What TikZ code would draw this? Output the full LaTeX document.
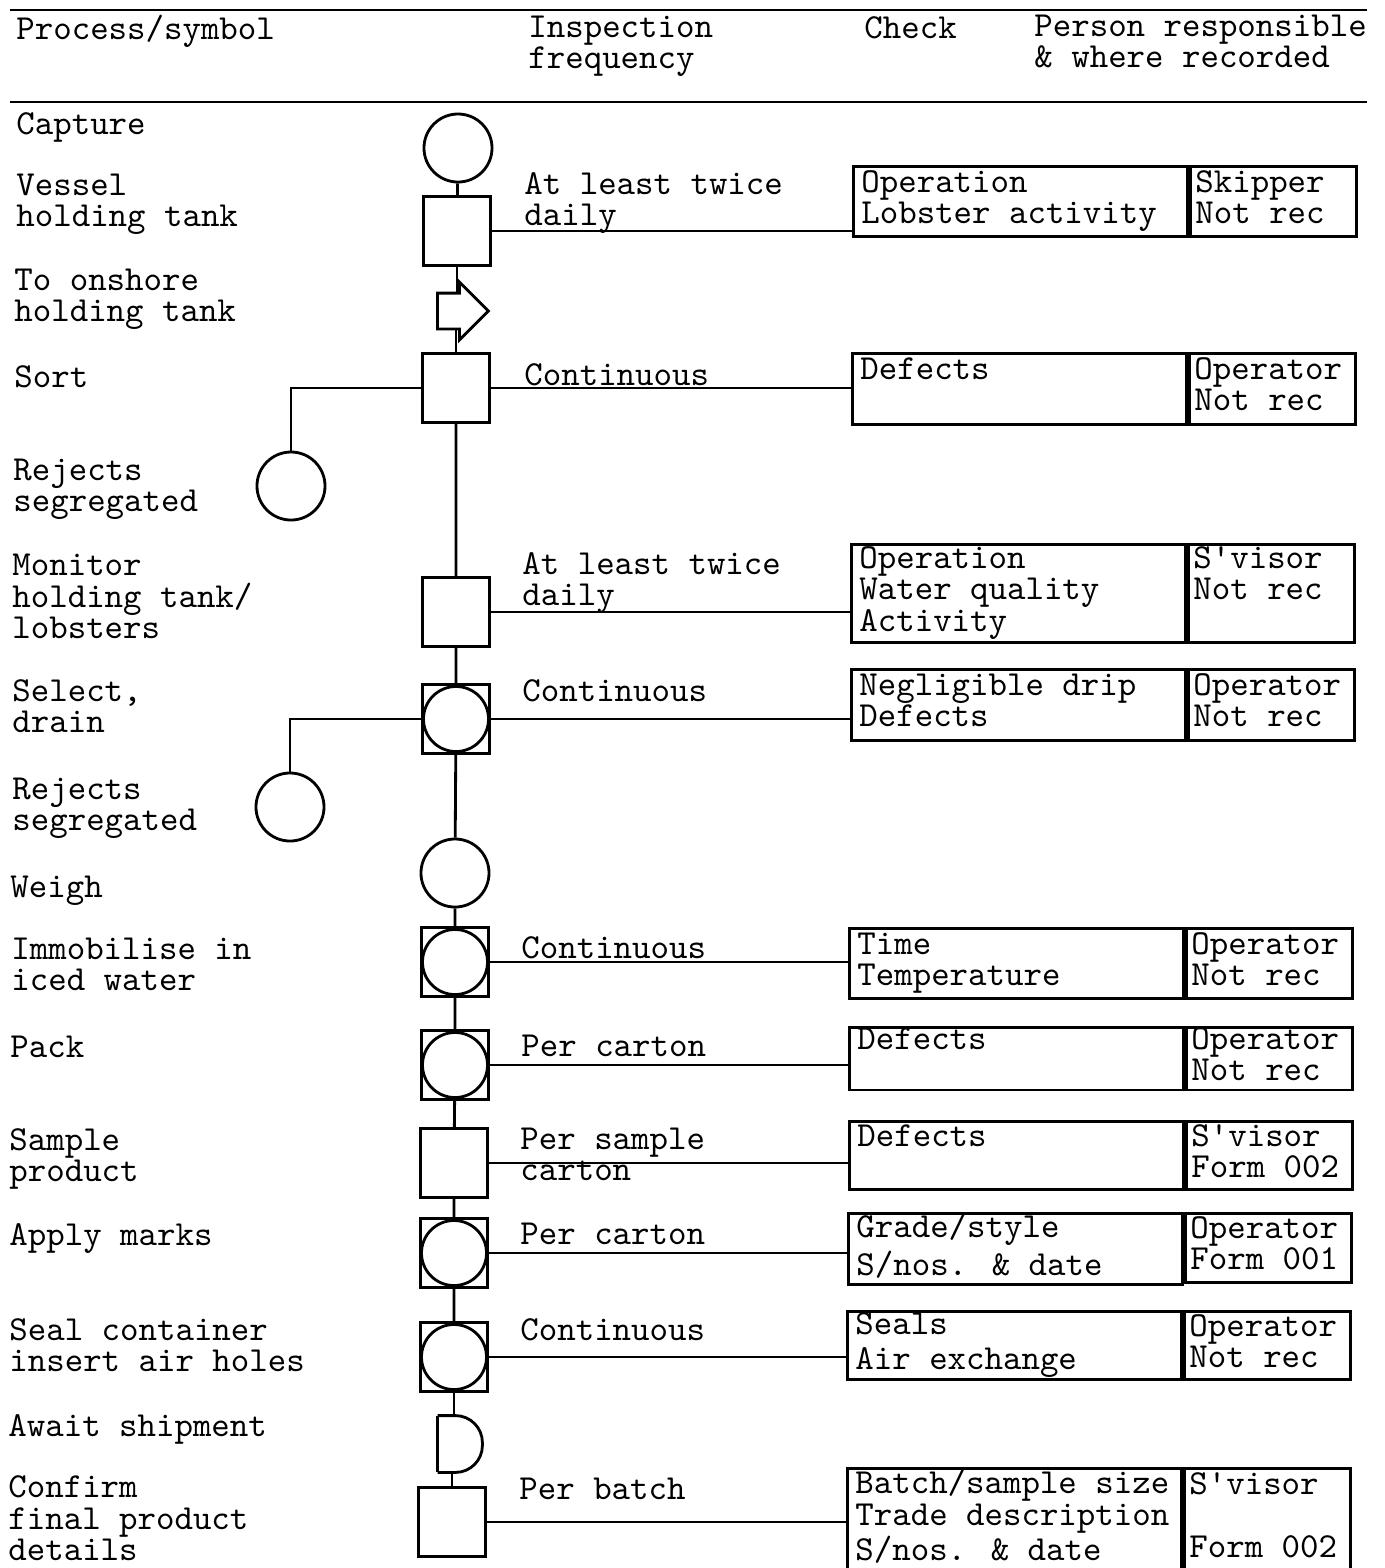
\documentclass[tikz,border=0pt]{standalone}
\usepackage{fontspec}
\usepackage{tikz}
\usetikzlibrary{positioning, calc, shapes.arrows}
\lineskiplimit=-16000pt

\begin{document}
\begin{tikzpicture}[
    x=0.01cm, y=-0.01cm,
    line width=0.8pt,
    txt/.style={font=\ttfamily\fontsize{10pt}{8.9pt}\selectfont, align=flush left, inner sep=0pt,
                execute at begin node=\strut, execute at end node=\strut},
    lbl/.style={txt, anchor=west, yshift=-0.04cm},
    opc/.style={draw, circle, minimum size=0.68cm, inner sep=0pt},
    insp/.style={draw, rectangle, minimum width=0.67cm, minimum height=0.69cm, inner sep=0pt},
    opinsp/.style={insp, path picture={\draw (path picture bounding box.center) circle (0.325cm);}},
    trans/.style={draw, single arrow, minimum height=0.51cm, minimum width=0.55cm,
                  inner xsep=0pt, inner ysep=0.165cm, single arrow head extend=0.11cm,
                  single arrow tip angle=90, anchor=tail},
    delay/.style={rectangle, minimum width=0.42cm, minimum height=0.54cm, inner sep=0pt},
    chk/.style={draw, txt, anchor=north west, text width=3.18cm, inner xsep=0.08cm, inner ysep=0pt},
    prs/.style={draw, txt, anchor=north west, text width=1.56cm, inner xsep=0.05cm, inner ysep=0pt},
]
\useasboundingbox (0,0) rectangle (1385,1568);

% ─── Header ───
\draw (10,10) -- (1367,10);
\draw (10,102) -- (1367,102);
\node[lbl] at (15,28)   (hProc) {Process/symbol};
\node[lbl] at (527,43)  (hFreq) {Inspection\\frequency};
\node[lbl] at (863,28)  (hChk)  {Check};
\node[lbl] at (1033,42) (hPrs)  {Person responsible\\\& where recorded};

% ─── Process labels ───
\node[lbl] at (15,124)  (lCap)  {Capture};
\node[lbl] at (15,201)  (lVes)  {Vessel\\holding tank};
\node[lbl] at (13,296)  (lTrn)  {To onshore\\holding tank};
\node[lbl] at (13,377)  (lSort) {Sort};
\node[lbl] at (12,486)  (lRej1) {Rejects\\segregated};
\node[lbl] at (11,597)  (lMon)  {Monitor\\holding tank/\\lobsters};
\node[lbl] at (11,707)  (lSel)  {Select,\\drain};
\node[lbl] at (11,805)  (lRej2) {Rejects\\segregated};
\node[lbl] at (9,887)   (lWgh)  {Weigh};
\node[lbl] at (10,965)  (lImm)  {Immobilise in\\iced water};
\node[lbl] at (9,1047)  (lPack) {Pack};
\node[lbl] at (8,1156)  (lSmp)  {Sample\\product};
\node[lbl] at (8,1235)  (lMrk)  {Apply marks};
\node[lbl] at (8,1346)  (lSeal) {Seal container\\insert air holes};
\node[lbl] at (7,1426)  (lAwt)  {Await shipment};
\node[lbl] at (7,1519)  (lCnf)  {Confirm\\final product\\details};

% ─── Symbols ───
\node[opc]    at (458,148)  (cap)  {};
\node[insp]   at (457,231)  (ves)  {};
\node[trans]  at (436,311)  (trn)  {};
\node[insp]   at (456,388)  (sort) {};
\node[opc]    at (291,486)  (rej1) {};
\node[insp]   at (456,612)  (mon)  {};
\node[opinsp] at (456,719)  (sel)  {};
\node[opc]    at (290,807)  (rej2) {};
\node[opc]    at (455,873)  (wgh)  {};
\node[opinsp] at (455,962)  (imm)  {};
\node[opinsp] at (455,1065) (pack) {};
\node[insp]   at (454,1163) (smp)  {};
\node[opinsp] at (454,1253) (mrk)  {};
\node[opinsp] at (454,1357) (seal) {};
\node[delay]  at (460,1444) (awt)  {};
\node[insp]   at (452,1522) (cnf)  {};

% delay symbol (D shape)
\draw (awt.north west) -- (awt.south west);
\draw[rounded corners=0.27cm] (awt.north west) -- (awt.north east) -- (awt.south east) -- (awt.south west);

% ─── Inspection frequency ───
\node[lbl] at (523,200)  (fVes)  {At least twice\\daily};
\node[lbl] at (523,375)  (fSort) {Continuous};
\node[lbl] at (521,580)  (fMon)  {At least twice\\daily};
\node[lbl] at (521,691)  (fSel)  {Continuous};
\node[lbl] at (520,948)  (fImm)  {Continuous};
\node[lbl] at (520,1046) (fPack) {Per carton};
\node[lbl] at (519,1155) (fSmp)  {Per sample\\carton};
\node[lbl] at (519,1234) (fMrk)  {Per carton};
\node[lbl] at (519,1330) (fSeal) {Continuous};
\node[lbl] at (518,1489) (fCnf)  {Per batch};

% ─── Check / person boxes ───
\node[chk, minimum height=0.70cm] at (852,165)  (vesC)  {Operation\\Lobster activity};
\node[prs, minimum height=0.70cm] at (vesC.north east)  (vesP)  {Skipper\\Not rec};
\node[chk, minimum height=0.71cm] at (851,352)  (sortC) {Defects\\\mbox{}};
\node[prs, minimum height=0.71cm] at (sortC.north east) (sortP) {Operator\\Not rec};
\node[chk, minimum height=0.98cm] at (850,543)  (monC)  {Operation\\Water quality\\Activity};
\node[prs, minimum height=0.98cm] at (monC.north east)  (monP)  {S\textquotesingle visor\\Not rec\\\mbox{}};
\node[chk, minimum height=0.71cm] at (850,668)  (selC)  {Negligible drip\\Defects};
\node[prs, minimum height=0.71cm] at (selC.north east)  (selP)  {Operator\\Not rec};
\node[chk, minimum height=0.70cm] at (848,927)  (immC)  {Time\\Temperature};
\node[prs, minimum height=0.70cm] at (immC.north east)  (immP)  {Operator\\Not rec};
\node[chk, minimum height=0.62cm] at (848,1026) (packC) {Defects\\\mbox{}};
\node[prs, minimum height=0.62cm] at (packC.north east) (packP) {Operator\\Not rec};
\node[chk, minimum height=0.68cm] at (848,1120) (smpC)  {Defects\\\mbox{}};
\node[prs, minimum height=0.68cm] at (smpC.north east)  (smpP)  {S\textquotesingle visor\\Form 002};
\node[chk, minimum height=0.69cm] at (847,1212) (mrkC)  {Grade/style\\S/nos. \& date};
\node[prs, minimum height=0.69cm] at (mrkC.north east)  (mrkP)  {Operator\\Form 001};
\node[chk, minimum height=0.68cm] at (846,1310) (sealC) {Seals\\Air exchange};
\node[prs, minimum height=0.68cm] at (sealC.north east) (sealP) {Operator\\Not rec};
\node[chk, minimum height=1.03cm] at (846,1467) (cnfC)  {Batch/sample size\\Trade description\\S/nos. \& date};
\node[prs, minimum height=1.03cm] at (cnfC.north east)  (cnfP)  {S\textquotesingle visor\\\mbox{}\\Form 002};

% ─── Flow line ───
\draw (cap) -- (ves);
\draw (ves) -- (ves |- trn.north);
\draw (sort |- trn.south) -- (sort);
\draw (sort) -- (mon) -- (sel) -- (wgh) -- (imm) -- (pack) -- (smp) -- (mrk) -- (seal);
\draw (seal) -- (seal |- awt.north);
\draw (cnf |- awt.south) -- (cnf);
\draw (sort) -| (rej1);
\draw (sel)  -| (rej2);

% ─── Links to checks ───
\draw (ves)  -- (ves  -| vesC.west);
\draw (sort) -- (sort -| sortC.west);
\draw (mon)  -- (mon  -| monC.west);
\draw (sel)  -- (sel  -| selC.west);
\draw (imm)  -- (imm  -| immC.west);
\draw (pack) -- (pack -| packC.west);
\draw (smp)  -- (smp  -| smpC.west);
\draw (mrk)  -- (mrk  -| mrkC.west);
\draw (seal) -- (seal -| sealC.west);
\draw (cnf)  -- (cnf  -| cnfC.west);

\end{tikzpicture}
\end{document}
